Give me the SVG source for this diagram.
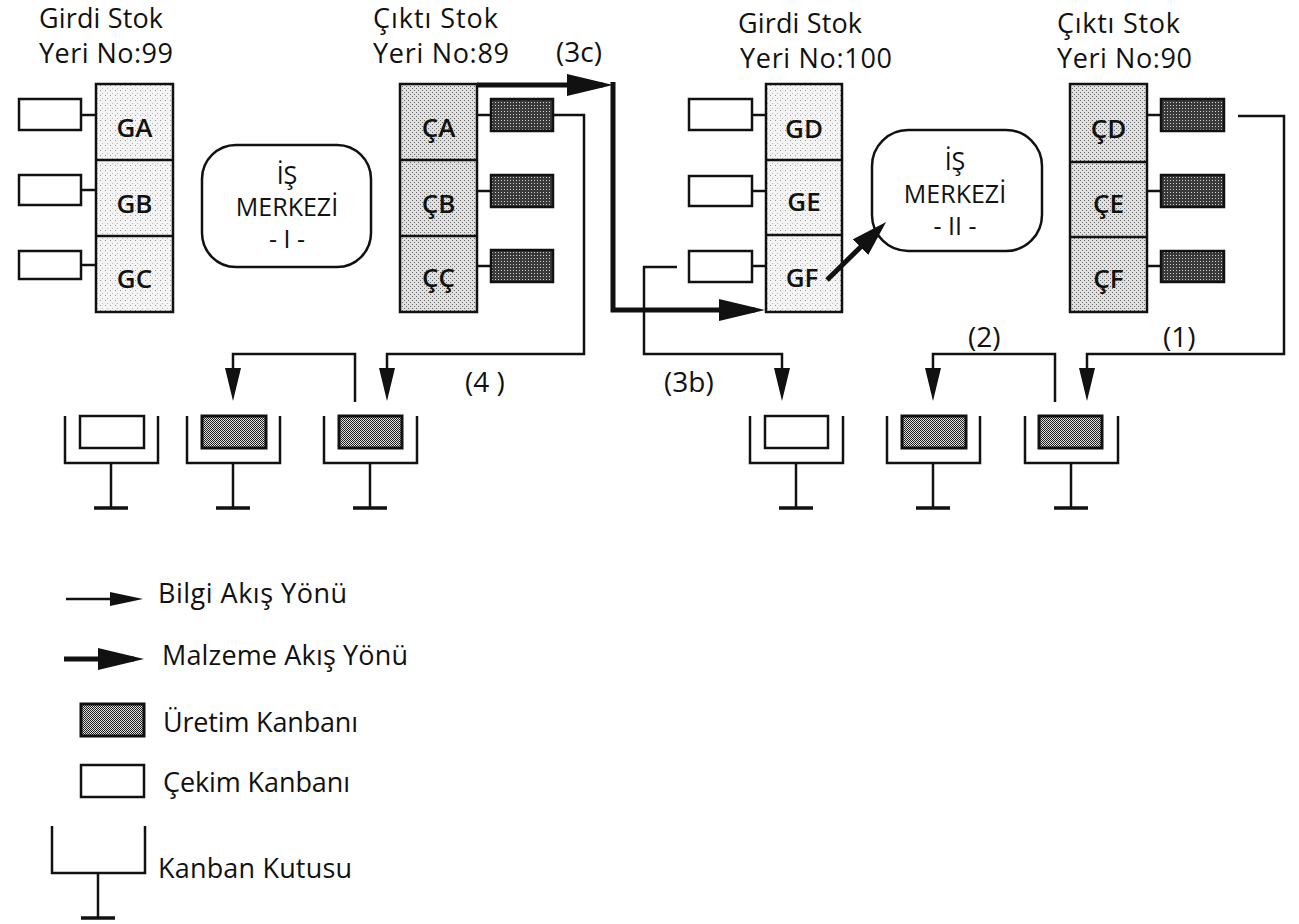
<svg xmlns="http://www.w3.org/2000/svg" xmlns:xlink="http://www.w3.org/1999/xlink" width="1299" height="924" viewBox="0 0 1299 924">
<style>
text{font-family:"Open Sans","Noto Sans","DejaVu Sans",sans-serif;fill:#111}
.h{font-size:27px}
.cell{font-size:26px;font-weight:600;text-anchor:middle}
.wc{font-size:25px;text-anchor:middle}
.lbl{font-size:28px}
.lg{font-size:27px}
.bd{stroke:#111;stroke-width:2.5;fill:none}
.gst{fill:url(#pLight);stroke:#111;stroke-width:2.5}
.cst{fill:url(#pMed);stroke:#111;stroke-width:2.5}
.kw{fill:#fff;stroke:#111;stroke-width:2.5}
.kd{fill:url(#pDark);stroke:#111;stroke-width:2.5}
.kc{fill:url(#pCheck);stroke:#111;stroke-width:3}
.wcb{fill:#fff;stroke:#111;stroke-width:2.5}
.info{stroke:#111;stroke-width:2.5;fill:none;stroke-linejoin:miter}
.mat{stroke:#111;stroke-width:5;fill:none;stroke-linejoin:miter}
</style>
<defs>
<pattern id="pLight" width="5" height="5" patternUnits="userSpaceOnUse">
<rect width="5" height="5" fill="#f4f4f4"/><rect x="0" y="0" width="1" height="1" fill="#999"/><rect x="2" y="3" width="1" height="1" fill="#bbb"/>
</pattern>
<pattern id="pMed" width="4" height="4" patternUnits="userSpaceOnUse">
<rect width="4" height="4" fill="#e0e0e0"/><rect x="0" y="0" width="1" height="1" fill="#666"/><rect x="2" y="2" width="1" height="1" fill="#666"/>
</pattern>
<pattern id="pDark" width="3" height="3" patternUnits="userSpaceOnUse">
<rect width="3" height="3" fill="#3a3a3a"/><rect x="0" y="0" width="1" height="1" fill="#d0d0d0"/>
</pattern>
<pattern id="pCheck" width="2" height="2" patternUnits="userSpaceOnUse">
<rect width="2" height="2" fill="#ddd"/><rect x="0" y="0" width="1" height="1" fill="#222"/><rect x="1" y="1" width="1" height="1" fill="#222"/>
</pattern>
<marker id="aInfo" markerUnits="userSpaceOnUse" markerWidth="34" markerHeight="17" refX="23" refY="8" orient="auto"><path d="M0,0 L33,8 L0,16 Z" fill="#111"/></marker>
<marker id="aInfoS" markerUnits="userSpaceOnUse" markerWidth="34" markerHeight="15" refX="23" refY="7" orient="auto"><path d="M0,0 L33,7 L0,14 Z" fill="#111"/></marker>
<marker id="aMat" markerUnits="userSpaceOnUse" markerWidth="47" markerHeight="23" refX="36" refY="11" orient="auto"><path d="M0,0 L46,11 L0,22 Z" fill="#111"/></marker>
<marker id="aMat2" markerUnits="userSpaceOnUse" markerWidth="37" markerHeight="23" refX="26" refY="11" orient="auto"><path d="M0,0 L36,11 L0,22 Z" fill="#111"/></marker>
<g id="kbox">
<path d="M0,0 V47 H93 V0" class="bd"/>
<path d="M46,47 V92" class="bd"/>
<path d="M29,92 H63" stroke="#111" stroke-width="3.5"/>
</g>
</defs>
<rect width="1299" height="924" fill="#fff"/>

<!-- Stock 99 -->
<g id="stok-99">
<text class="h" x="39" y="28" textLength="124">Girdi Stok</text>
<text class="h" x="39" y="63" textLength="134">Yeri No:99</text>
<rect x="96" y="84" width="77" height="228" class="gst"/>
<line x1="96" y1="160" x2="173" y2="160" class="bd"/>
<line x1="96" y1="236" x2="173" y2="236" class="bd"/>
<g id="GA"><text class="cell" x="134.5" y="137">GA</text><rect x="19" y="99" width="62" height="31" class="kw"/><line x1="81" y1="115" x2="96" y2="115" class="bd"/></g>
<g id="GB"><text class="cell" x="134.5" y="213">GB</text><rect x="19" y="175" width="62" height="30" class="kw"/><line x1="81" y1="190" x2="96" y2="190" class="bd"/></g>
<g id="GC"><text class="cell" x="134.5" y="288">GC</text><rect x="19" y="251" width="62" height="28" class="kw"/><line x1="81" y1="265" x2="96" y2="265" class="bd"/></g>
</g>

<!-- Work center I -->
<g id="is-merkezi-1">
<rect x="202" y="145" width="169" height="122" rx="34" ry="34" class="wcb"/>
<text class="wc" x="287" y="184">İŞ</text>
<text class="wc" x="287" y="216">MERKEZİ</text>
<text class="wc" x="287" y="248">- I -</text>
</g>

<!-- Stock 89 -->
<g id="stok-89">
<text class="h" x="373" y="28" textLength="125">Çıktı Stok</text>
<text class="h" x="373" y="63" textLength="136">Yeri No:89</text>
<rect x="400" y="84" width="77" height="228" class="cst"/>
<line x1="400" y1="160" x2="477" y2="160" class="bd"/>
<line x1="400" y1="236" x2="477" y2="236" class="bd"/>
<g id="CA"><text class="cell" x="438.5" y="137">ÇA</text><line x1="477" y1="115" x2="491" y2="115" class="bd"/><rect x="491" y="99" width="62" height="32" class="kd"/></g>
<g id="CB"><text class="cell" x="438.5" y="213">ÇB</text><line x1="477" y1="191" x2="491" y2="191" class="bd"/><rect x="491" y="175" width="62" height="32" class="kd"/></g>
<g id="CC"><text class="cell" x="438.5" y="287">ÇÇ</text><line x1="477" y1="266" x2="491" y2="266" class="bd"/><rect x="491" y="250" width="62" height="32" class="kd"/></g>
</g>

<!-- Stock 100 -->
<g id="stok-100">
<text class="h" x="738" y="33" textLength="124">Girdi Stok</text>
<text class="h" x="740" y="68" textLength="152">Yeri No:100</text>
<rect x="766" y="84" width="76" height="228" class="gst"/>
<line x1="766" y1="160" x2="842" y2="160" class="bd"/>
<line x1="766" y1="235" x2="842" y2="235" class="bd"/>
<g id="GD"><text class="cell" x="804" y="138">GD</text><rect x="689" y="99" width="63" height="31" class="kw"/><line x1="752" y1="115" x2="766" y2="115" class="bd"/></g>
<g id="GE"><text class="cell" x="804" y="211">GE</text><rect x="689" y="176" width="63" height="30" class="kw"/><line x1="752" y1="191" x2="766" y2="191" class="bd"/></g>
<g id="GF"><text class="cell" x="802" y="287">GF</text><rect x="689" y="251" width="63" height="31" class="kw"/><line x1="752" y1="266" x2="766" y2="266" class="bd"/></g>
</g>

<!-- Work center II -->
<g id="is-merkezi-2">
<rect x="872" y="130" width="170" height="121" rx="36" ry="36" class="wcb"/>
<text class="wc" x="955" y="170">İŞ</text>
<text class="wc" x="955" y="203">MERKEZİ</text>
<text class="wc" x="955" y="235">- II -</text>
</g>

<!-- Stock 90 -->
<g id="stok-90">
<text class="h" x="1057" y="33" textLength="123">Çıktı Stok</text>
<text class="h" x="1057" y="68" textLength="135">Yeri No:90</text>
<rect x="1070" y="84" width="77" height="228" class="cst"/>
<line x1="1070" y1="162" x2="1147" y2="162" class="bd"/>
<line x1="1070" y1="237" x2="1147" y2="237" class="bd"/>
<g id="CD"><text class="cell" x="1108.5" y="138">ÇD</text><line x1="1147" y1="115" x2="1161" y2="115" class="bd"/><rect x="1161" y="99" width="63" height="32" class="kd"/></g>
<g id="CE"><text class="cell" x="1108.5" y="213">ÇE</text><line x1="1147" y1="191" x2="1161" y2="191" class="bd"/><rect x="1161" y="175" width="63" height="32" class="kd"/></g>
<g id="CF"><text class="cell" x="1108.5" y="288">ÇF</text><line x1="1147" y1="266" x2="1161" y2="266" class="bd"/><rect x="1161" y="251" width="63" height="31" class="kd"/></g>
</g>

<!-- Kanban boxes -->
<g id="kutu-1"><use xlink:href="#kbox" href="#kbox" x="65" y="416"/><rect x="80" y="416" width="64" height="32" class="kw"/></g>
<g id="kutu-2"><use xlink:href="#kbox" href="#kbox" x="187" y="416"/><rect x="202" y="416" width="64" height="32" class="kc"/></g>
<g id="kutu-3"><use xlink:href="#kbox" href="#kbox" x="324" y="416"/><rect x="339" y="416" width="63" height="32" class="kc"/></g>
<g id="kutu-4"><use xlink:href="#kbox" href="#kbox" x="750" y="416"/><rect x="765" y="416" width="63" height="32" class="kw"/></g>
<g id="kutu-5"><use xlink:href="#kbox" href="#kbox" x="887" y="416"/><rect x="902" y="416" width="64" height="32" class="kc"/></g>
<g id="kutu-6"><use xlink:href="#kbox" href="#kbox" x="1025" y="416"/><rect x="1039" y="416" width="63" height="32" class="kc"/></g>

<!-- Connectors -->
<g id="connectors">
<path class="mat" d="M477,85 H603" marker-end="url(#aMat)"/>
<path class="mat" d="M613,82 V310 H755" marker-end="url(#aMat)"/>
<path class="mat" d="M827,280 L879,229" marker-end="url(#aMat2)"/>
<path class="info" d="M553,115 H584 V354 H387 V391" marker-end="url(#aInfo)"/>
<path class="info" d="M355,402 V354 H233 V391" marker-end="url(#aInfo)"/>
<path class="info" d="M677,267 H644 V354 H782 V391" marker-end="url(#aInfo)"/>
<path class="info" d="M1238,116 H1284 V354 H1087 V391" marker-end="url(#aInfo)"/>
<path class="info" d="M1055,402 V354 H933 V391" marker-end="url(#aInfo)"/>
</g>

<!-- Connector labels -->
<g id="labels">
<text class="lbl" x="556" y="62">(3c)</text>
<text class="lbl" x="465" y="392">(4 )</text>
<text class="lbl" x="664" y="392">(3b)</text>
<text class="lbl" x="968" y="347">(2)</text>
<text class="lbl" x="1163" y="347">(1)</text>
</g>

<!-- Legend -->
<g id="legend">
<g id="lg-bilgi"><path class="info" d="M66,599 H133" marker-end="url(#aInfoS)"/><text class="lg" x="158" y="603" textLength="189">Bilgi Akış Yönü</text></g>
<g id="lg-malzeme"><path class="mat" d="M64,659 H134" marker-end="url(#aMat)"/><text class="lg" x="162" y="665" textLength="246">Malzeme Akış Yönü</text></g>
<g id="lg-uretim"><rect x="81" y="704" width="63" height="32" class="kc"/><text class="lg" x="163" y="732" textLength="195">Üretim Kanbanı</text></g>
<g id="lg-cekim"><rect x="81" y="765" width="63" height="32" class="kw"/><text class="lg" x="163" y="792" textLength="187">Çekim Kanbanı</text></g>
<g id="lg-kutu"><use xlink:href="#kbox" href="#kbox" x="52" y="826"/><text class="lg" x="158" y="878" textLength="194">Kanban Kutusu</text></g>
</g>
</svg>
